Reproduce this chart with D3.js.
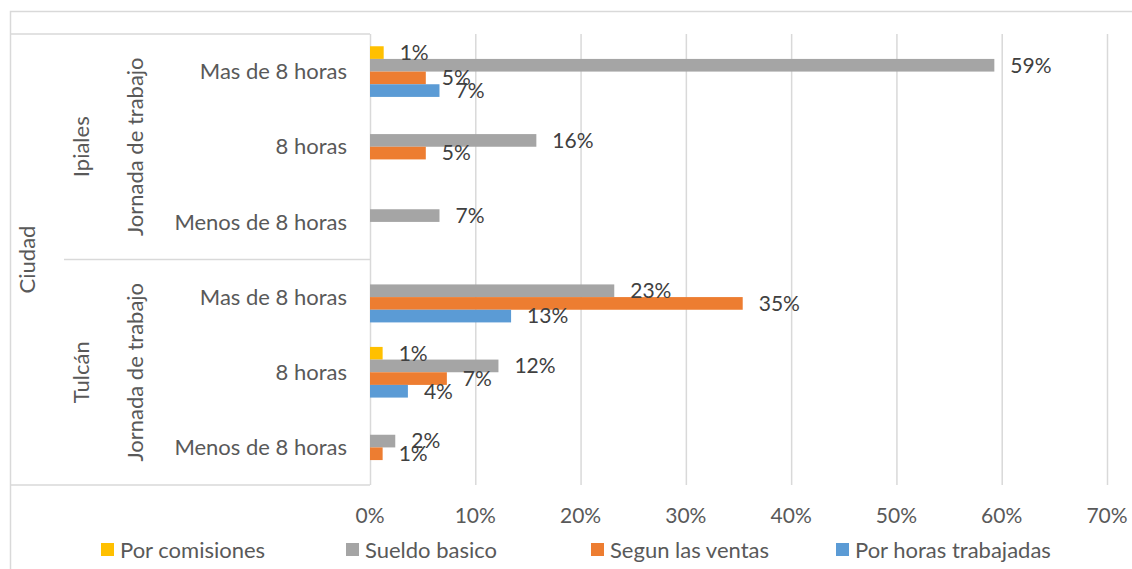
<html>
  <body style="margin:0;background:#fff">
    <script src="https://d3js.org/d3.v7.min.js"></script>
    <script type="text/javascript">
      // data
      var cities = ["Ipiales", "Tulcán"];
      var jornadas = ["Mas de 8 horas", "8 horas", "Menos de 8 horas"];
      var seriesNames = ["Por comisiones", "Sueldo basico", "Segun las ventas", "Por horas trabajadas"];
      var seriesColors = ["#ffc000", "#a5a5a5", "#ed7d31", "#5b9bd5"];
      // values per series, order: Ipiales (Mas, 8, Menos), Tulcán (Mas, 8, Menos)
      var porComisiones = [0.013, 0, 0, 0, 0.012, 0];
      var sueldoBasico = [0.593, 0.158, 0.066, 0.232, 0.122, 0.024];
      var segunVentas = [0.053, 0.053, 0, 0.354, 0.073, 0.012];
      var porHoras = [0.066, 0, 0, 0.134, 0.036, 0];
      var xTicks = [0, 0.1, 0.2, 0.3, 0.4, 0.5, 0.6, 0.7];

      var values = [porComisiones, sueldoBasico, segunVentas, porHoras];
      var font = "Lato, 'Open Sans', sans-serif";
      var grid = "#d9d9d9";

      var width = 1132, height = 569;
      var svg = d3.select("body").append("svg")
        .attr("width", width).attr("height", height)
        .style("font-family", font);

      var plot = {left: 370, right: 1107, top: 34, bottom: 485};

      // outer chart border
      svg.append("rect")
        .attr("x", 10.5).attr("y", 11.5)
        .attr("width", width + 20).attr("height", height + 20)
        .attr("fill", "none").attr("stroke", grid).attr("stroke-width", 1.5);

      var rows = [];
      cities.forEach(function(c) {
        jornadas.forEach(function(j) { rows.push(c + "|" + j); });
      });

      var x = d3.scaleLinear().domain([0, 0.7]).range([plot.left, plot.right]);
      var y = d3.scaleBand().domain(rows).range([plot.top, plot.bottom]);
      var bw = y.bandwidth();
      var yInner = d3.scaleBand().domain(seriesNames)
        .range([bw * 0.163, bw * 0.837]);

      var cityScale = d3.scaleBand().domain(cities).range([plot.top, plot.bottom]);

      // gridlines
      svg.append("g")
        .attr("transform", "translate(0," + plot.bottom + ")")
        .call(d3.axisBottom(x).tickValues(xTicks).tickSize(-(plot.bottom - plot.top)).tickFormat(""))
        .call(function(g) {
          g.select(".domain").remove();
          g.selectAll("line").attr("stroke", grid).attr("stroke-width", 1.5);
        });

      // category table lines
      var lines = svg.append("g").attr("stroke", grid).attr("stroke-width", 1.5);
      lines.append("line").attr("x1", 10).attr("x2", plot.left).attr("y1", plot.top).attr("y2", plot.top);
      lines.append("line").attr("x1", 10).attr("x2", plot.left).attr("y1", plot.bottom).attr("y2", plot.bottom);
      lines.append("line").attr("x1", 64).attr("x2", plot.left)
        .attr("y1", cityScale("Tulcán")).attr("y2", cityScale("Tulcán"));

      // bars
      var barData = [];
      values.forEach(function(arr, si) {
        arr.forEach(function(v, ri) {
          if (v > 0) barData.push({s: seriesNames[si], c: seriesColors[si], row: rows[ri], v: v});
        });
      });

      svg.append("g").selectAll("rect")
        .data(barData).enter().append("rect")
        .attr("x", x(0))
        .attr("y", function(d) { return y(d.row) + yInner(d.s); })
        .attr("width", function(d) { return x(d.v) - x(0); })
        .attr("height", yInner.bandwidth())
        .attr("fill", function(d) { return d.c; });

      // data labels
      svg.append("g").selectAll("text")
        .data(barData).enter().append("text")
        .attr("x", function(d) { return x(d.v) + 16; })
        .attr("y", function(d) { return y(d.row) + yInner(d.s) + yInner.bandwidth() / 2; })
        .attr("dy", "0.35em")
        .attr("fill", "#404040")
        .style("font-size", "21px")
        .text(function(d) { return d3.format(".0%")(d.v); });

      // category labels
      svg.append("g").selectAll("text")
        .data(rows).enter().append("text")
        .attr("x", 347)
        .attr("y", function(d) { return y(d) + bw / 2; })
        .attr("dy", "0.35em")
        .attr("text-anchor", "end")
        .attr("fill", "#595959")
        .style("font-size", "22px")
        .text(function(d) { return d.split("|")[1]; });

      cities.forEach(function(c) {
        var cy = cityScale(c) + cityScale.bandwidth() / 2;
        svg.append("text")
          .attr("transform", "translate(135," + cy + ") rotate(-90)")
          .attr("dy", "0.35em").attr("text-anchor", "middle")
          .attr("fill", "#595959").style("font-size", "22px")
          .text("Jornada de trabajo");
        svg.append("text")
          .attr("transform", "translate(81," + cy + ") rotate(-90)")
          .attr("dy", "0.35em").attr("text-anchor", "middle")
          .attr("fill", "#595959").style("font-size", "22px")
          .text(c);
      });

      svg.append("text")
        .attr("transform", "translate(27," + (plot.top + plot.bottom) / 2 + ") rotate(-90)")
        .attr("dy", "0.35em").attr("text-anchor", "middle")
        .attr("fill", "#595959").style("font-size", "22px")
        .text("Ciudad");

      // x tick labels
      svg.append("g").selectAll("text")
        .data(xTicks).enter().append("text")
        .attr("x", function(d) { return x(d); })
        .attr("y", 516)
        .attr("dy", "0.35em")
        .attr("text-anchor", "middle")
        .attr("fill", "#595959")
        .style("font-size", "21px")
        .text(d3.format(".0%"));

      // legend
      var legend = svg.append("g").selectAll("g")
        .data(seriesNames).enter().append("g")
        .attr("transform", function(d, i) { return "translate(" + (101 + i * 245) + ",543)"; });
      legend.append("rect")
        .attr("width", 13).attr("height", 13)
        .attr("fill", function(d, i) { return seriesColors[i]; });
      legend.append("text")
        .attr("x", 19).attr("y", 7).attr("dy", "0.35em")
        .attr("fill", "#595959")
        .style("font-size", "22px")
        .text(function(d) { return d; });
    </script>
  </body>
</html>
